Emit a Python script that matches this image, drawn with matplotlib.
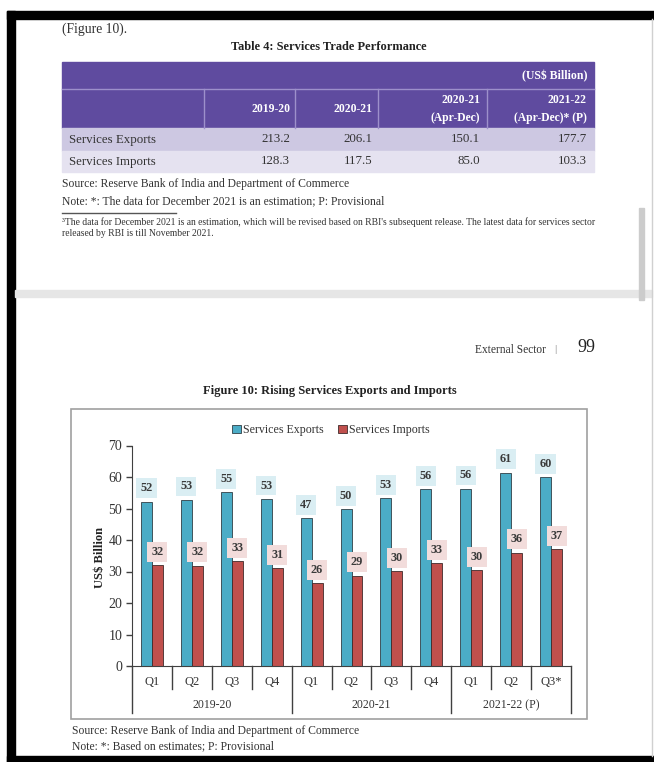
import matplotlib.pyplot as plt
from matplotlib.patches import Rectangle
import numpy as np

plt.rcParams['font.family'] = ['Liberation Serif', 'DejaVu Serif']

# Table 4 data
table_cols = ['2019-20', '2020-21', '2020-21\n(Apr-Dec)', '2021-22\n(Apr-Dec)* (P)']
table_rows = ['Services Exports', 'Services Imports']
table_exports = [213.2, 206.1, 150.1, 177.7]
table_imports = [128.3, 117.5, 85.0, 103.3]

# Figure 10 data (US$ billion, quarterly)
quarters = ['Q1', 'Q2', 'Q3', 'Q4', 'Q1', 'Q2', 'Q3', 'Q4', 'Q1', 'Q2', 'Q3*']
years = ['2019-20', '2020-21', '2021-22 (P)']
year_len = [4, 4, 3]
exports = [52.2, 52.8, 55.2, 53.1, 47.0, 49.9, 53.3, 56.1, 56.3, 61.4, 60.0]
imports = [32.1, 31.9, 33.4, 31.1, 26.2, 28.7, 30.1, 32.6, 30.4, 36.0, 37.2]

W, H = 654, 762
fig = plt.figure(figsize=(W / 100, H / 100), dpi=100)

# page drawn in pixel coordinates
page = fig.add_axes([0, 0, 1, 1])
page.set_xlim(0, W)
page.set_ylim(H, 0)
page.axis('off')

txt = '#333333'


def box(x0, y0, x1, y1, **kw):
    page.add_patch(Rectangle((x0, y0), x1 - x0, y1 - y0, **kw))


# black frame of the screenshot
box(7, 11, W, 19, color='black')
box(7, 11, 15, H, color='black')
box(7, 756, W, H, color='black')
page.plot([652, 652], [19, 756], color='#d0d0d0', lw=1)

# --- upper page: table ---
page.text(62, 29, '(Figure 10).', fontsize=9.8, va='center', color=txt)
page.text(329, 47, 'Table 4: Services Trade Performance', fontsize=8.9,
          weight='bold', ha='center', va='center', color='#222222')

purple = '#5f4b9f'
line_col = '#9d90cb'
box(62, 62, 594, 128, color=purple)
page.plot([62, 594], [89, 89], color=line_col, lw=1)
for xl in [204, 295, 378, 487]:
    page.plot([xl, xl], [89, 128], color=line_col, lw=1)
page.text(587, 76, r'(US\$ Billion)', color='white', weight='bold',
          ha='right', va='center', fontsize=8.5)

col_right = [290, 372, 480, 587]
for xr, lab in zip(col_right, table_cols):
    page.text(xr, 109, lab, ha='right', va='center', color='white',
              weight='bold', fontsize=8.4, linespacing=1.6)

box(62, 128, 594, 151, color='#cdc8e2')
box(62, 151, 594, 172, color='#e5e2f0')
for yc, name, vals in zip([139.5, 161.5], table_rows, [table_exports, table_imports]):
    page.text(69, yc, name, ha='left', va='center', fontsize=9.3, color=txt)
    for xr, v in zip(col_right, vals):
        page.text(xr, yc, f'{v:.1f}', ha='right', va='center', fontsize=9.3, color=txt)

page.text(62, 184, 'Source: Reserve Bank of India and Department of Commerce',
          fontsize=8.4, va='center', color=txt)
page.text(62, 201, 'Note: *: The data for December 2021 is an estimation; P: Provisional',
          fontsize=8.4, va='center', color=txt)
page.plot([62, 176], [213, 213], color='#555555', lw=1)
page.text(62, 222, '\u00b3The data for December 2021 is an estimation, which will be revised '
          'based on RBI\'s subsequent release. The latest data for services sector',
          fontsize=6.9, va='center', color=txt)
page.text(62, 234, 'released by RBI is till November 2021.', fontsize=6.9,
          va='center', color=txt)

# page break and scrollbar
box(15, 290, 652, 297, color='#e6e6e6')
box(639, 208, 644, 300, color='#cccccc')

# --- lower page: header and chart ---
page.text(546, 350, 'External Sector', ha='right', va='center', fontsize=8.3, color=txt)
page.text(555, 350, '|', ha='center', va='center', fontsize=8, color='#777777')
page.text(586, 348, '99', ha='center', va='center', fontsize=13, color='#222222')

page.text(330, 391, 'Figure 10: Rising Services Exports and Imports', fontsize=9,
          weight='bold', ha='center', va='center', color='#222222')
box(71, 409, 587, 719, fill=False, edgecolor='#a0a0a0', lw=1.2)
page.text(72, 731, 'Source: Reserve Bank of India and Department of Commerce',
          fontsize=8.4, va='center', color=txt)
page.text(72, 746, 'Note: *: Based on estimates; P: Provisional',
          fontsize=8.4, va='center', color=txt)

ax_l, ax_r, ax_t, ax_b = 132, 571, 445.5, 666
ax_h = ax_b - ax_t
ax = fig.add_axes([ax_l / W, (H - ax_b) / H, (ax_r - ax_l) / W, ax_h / H])
ax.patch.set_alpha(0)

x = np.arange(len(quarters))
w = 0.275
ax.bar(x - w / 2, exports, w, color='#4bacc6', edgecolor='#2f3f46', lw=0.6,
       label='Services Exports', zorder=2)
ax.bar(x + w / 2, imports, w, color='#c0504d', edgecolor='#3f2a2a', lw=0.6,
       label='Services Imports', zorder=2)

for series, shift, fc in [(exports, -w / 2, '#daeef3'), (imports, w / 2, '#f2dcdb')]:
    for xi, v in zip(x, series):
        ax.annotate(f'{v:.0f}', (xi + shift, v), xytext=(0, 9.5),
                    textcoords='offset points', ha='center', va='center',
                    fontsize=8.8, weight='bold', color='#3a3a3a', zorder=4,
                    annotation_clip=False,
                    bbox=dict(boxstyle='square,pad=0.32', fc=fc, ec='none'))

ax.set_xlim(-0.5, len(quarters) - 0.5)
ax.set_ylim(0, 70)
ax.set_yticks(range(0, 71, 10))
ax.set_xticks([])
for s in ['top', 'right']:
    ax.spines[s].set_visible(False)
for s in ['left', 'bottom']:
    ax.spines[s].set_color('#404040')
ax.tick_params(axis='y', length=4, width=1, color='#404040', labelsize=10,
               pad=3, labelcolor=txt)

# category axis: quarter and year separators
trans = ax.get_xaxis_transform()
edges = np.cumsum([0] + year_len) - 0.5
for b in np.arange(-0.5, len(quarters), 1.0):
    depth = 47 if b in edges else 23
    ax.plot([b, b], [0, -depth / ax_h], transform=trans, clip_on=False,
            color='#404040', lw=1)
for xi, q in zip(x, quarters):
    ax.text(xi, -16 / ax_h, q, transform=trans, ha='center', va='center',
            fontsize=9, color=txt)
for i, yname in enumerate(years):
    ax.text((edges[i] + edges[i + 1]) / 2, -39 / ax_h, yname, transform=trans,
            ha='center', va='center', fontsize=8.5, color=txt)

ax.text(-32 / (ax_r - ax_l), 0.494, r'US\$ Billion', rotation=90,
        transform=ax.transAxes, ha='center', va='center', weight='bold',
        fontsize=9, color='#222222')

ax.legend(loc='center', bbox_to_anchor=(331 / W, 1 - 430 / H),
          bbox_transform=fig.transFigure, ncol=2, frameon=False, fontsize=8.6,
          handlelength=0.7, handleheight=0.7, handletextpad=0.2,
          columnspacing=1.2, borderpad=0, labelcolor=txt)

fig.savefig('out.png', dpi=100)
